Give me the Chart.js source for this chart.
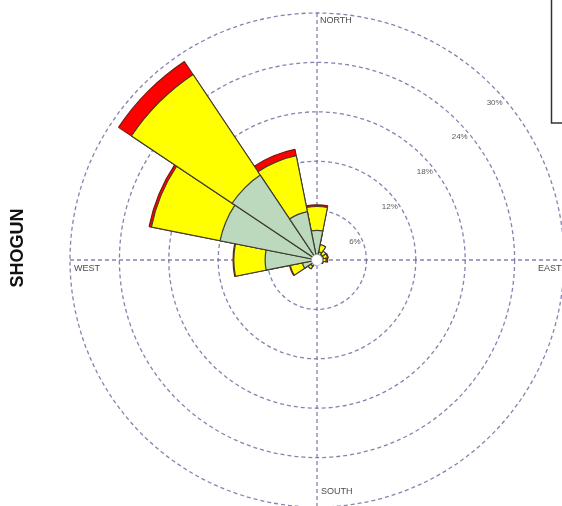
<!DOCTYPE html>
<html>
<head>
<meta charset="utf-8">
<script src="https://cdn.jsdelivr.net/npm/chart.js@4/dist/chart.umd.min.js"></script>
<style>
html,body{margin:0;padding:0;background:#fff;overflow:hidden;width:562px;height:506px;}
#c{position:absolute;left:0;top:0;}
</style>
</head>
<body>
<canvas id="c" width="600" height="520" style="width:600px;height:520px"></canvas>
<script>
// 16 wind directions, clockwise from North
const directions = ['N','NNE','NE','ENE','E','ESE','SE','SSE','S','SSW','SW','WSW','W','WNW','NW','NNW'];
// frequency (%) per speed class
const lowSpeed  = [3.6, 1.0, 0.8, 0.8, 0.7, 0.5, 0.4, 0.3, 0.3, 0.4, 0.9, 1.8, 6.3, 12.0, 12.4, 6.0];
const midSpeed  = [2.9, 0.9, 0.5, 0.5, 0.4, 0.2, 0.1, 0.1, 0.1, 0.2, 0.4, 1.5, 3.8, 8.5, 14.7, 6.9];
const highSpeed = [0.2, 0.0, 0.0, 0.1, 0.2, 0.1, 0.0, 0.0, 0.0, 0.0, 0.0, 0.1, 0.1, 0.3, 1.9, 0.8];
const tickValues = [6, 12, 18, 24, 30];
const tickLabels = ['6%', '12%', '18%', '24%', '30%'];
const compassLabels = ['NORTH', 'EAST', 'SOUTH', 'WEST'];
const stationName = 'SHOGUN';

const cumLow = lowSpeed.slice();
const cumMid = lowSpeed.map((v, i) => v + midSpeed[i]);
const cumHigh = cumMid.map((v, i) => v + highSpeed[i]);

const gridColor = 'rgba(110,110,160,0.85)';

const overlay = {
  id: 'overlay',
  beforeDatasetsDraw(chart) {
    const s = chart.scales.r, ctx = chart.ctx;
    const cx = s.xCenter, cy = s.yCenter, R = s.drawingArea;
    ctx.save();
    ctx.strokeStyle = gridColor;
    ctx.lineWidth = 1.3;
    ctx.setLineDash([4, 3]);
    ctx.beginPath();
    ctx.moveTo(cx, cy - R); ctx.lineTo(cx, cy + R);
    ctx.moveTo(cx - R, cy); ctx.lineTo(cx + R, cy);
    ctx.stroke();
    ctx.restore();
  },
  afterDatasetsDraw(chart) {
    const s = chart.scales.r, ctx = chart.ctx;
    const cx = s.xCenter, cy = s.yCenter, R = s.drawingArea;
    ctx.save();
    // calm circle
    ctx.beginPath();
    ctx.arc(cx, cy, 5.5, 0, Math.PI * 2);
    ctx.fillStyle = '#fff';
    ctx.fill();
    ctx.lineWidth = 0.6;
    ctx.strokeStyle = '#aaa';
    ctx.stroke();
    // ring labels
    ctx.font = '8px "Liberation Sans", Arial, sans-serif';
    ctx.fillStyle = '#5a5a5a';
    ctx.textAlign = 'center';
    ctx.textBaseline = 'middle';
    tickValues.forEach((v, i) => {
      const d = s.getDistanceFromCenterForValue(v);
      ctx.fillText(tickLabels[i], cx + d * Math.SQRT1_2 + 3, cy - d * Math.SQRT1_2 + 17);
    });
    // compass labels
    ctx.font = '9px "Liberation Sans", Arial, sans-serif';
    ctx.fillStyle = '#4a4a4a';
    ctx.textAlign = 'left';
    ctx.fillText(compassLabels[0], cx + 3, cy - R + 8);
    ctx.fillText(compassLabels[1], cx + R - 26, cy + 9);
    ctx.fillText(compassLabels[2], cx + 4, cy + R - 15);
    ctx.fillText(compassLabels[3], cx - R + 4, cy + 9);
    // station name
    ctx.save();
    ctx.translate(18, 248);
    ctx.rotate(-Math.PI / 2);
    ctx.font = 'bold 18px "Liberation Sans", Arial, sans-serif';
    ctx.fillStyle = '#111';
    ctx.textAlign = 'center';
    ctx.fillText(stationName, 0, 0);
    ctx.restore();
    // legend frame (partially visible)
    ctx.strokeStyle = '#333';
    ctx.lineWidth = 1.5;
    ctx.setLineDash([]);
    ctx.strokeRect(551.5, -5, 40, 128);
    ctx.restore();
  }
};

const arcBorder = '#3d3d2e';
new Chart(document.getElementById('c'), {
  type: 'polarArea',
  data: {
    labels: directions,
    datasets: [
      { label: 'low', data: cumLow, backgroundColor: '#bcd9bd', borderColor: arcBorder, borderWidth: 1.2 },
      { label: 'mid', data: cumMid, backgroundColor: '#ffff00', borderColor: arcBorder, borderWidth: 1.1 },
      { label: 'high', data: cumHigh, backgroundColor: '#ff0000', borderColor: '#6b1a10', borderWidth: 1.1 }
    ]
  },
  options: {
    responsive: false,
    animation: false,
    devicePixelRatio: 1,
    layout: { padding: { left: 70, top: 13, right: 36, bottom: 13 } },
    plugins: { legend: { display: false }, tooltip: { enabled: false } },
    scales: {
      r: {
        min: 0, max: 30,
        startAngle: -11.25,
        ticks: { stepSize: 6, display: false },
        grid: { circular: true, color: gridColor, lineWidth: 1.3, borderDash: [4, 3] },
        border: { dash: [4, 3] },
        angleLines: { display: false },
        pointLabels: { display: false }
      }
    }
  },
  plugins: [overlay]
});
</script>
</body>
</html>
